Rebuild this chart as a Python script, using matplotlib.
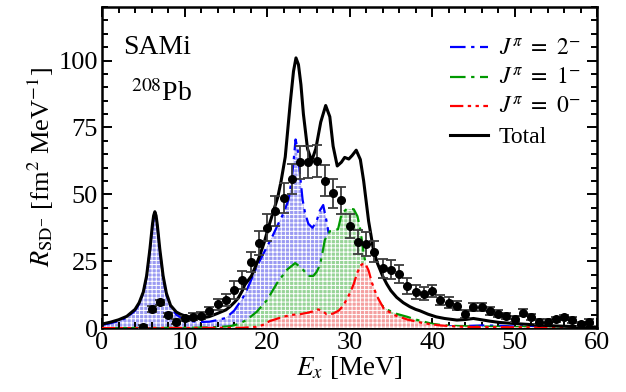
import matplotlib
matplotlib.use('Agg')
import matplotlib.pyplot as plt
import numpy as np

# J = 2- strength (blue)
e_j2 = [0, 1, 2, 3, 4, 4.5, 5, 5.4, 5.8, 6.1, 6.4, 6.7, 7.0, 7.4, 7.8, 8.3, 9, 10, 11, 12, 13, 14, 15, 16, 17,
        17.5, 18, 18.75, 19.5, 20, 20.6, 21.2, 22, 22.6, 23.0, 23.2, 23.45, 23.7, 24.0, 24.3, 24.6, 25.0, 25.5,
        26.0, 26.4, 26.8, 27.2, 27.6, 28.0, 28.5, 29, 30, 31, 32, 34, 36, 38, 40, 42, 44, 46, 48, 50, 52, 54,
        56, 58, 60]
r_j2 = [1.2, 1.8, 2.6, 3.9, 6.5, 9, 13, 19, 29, 38, 43.3, 38, 29, 19, 12.5, 8, 5, 3.2, 2.5, 2.3, 2.4, 3.0, 3.8, 6.5, 11,
        14, 17.5, 23, 27.5, 30.5, 34, 38, 43, 48, 56, 62, 70.5, 67, 57, 48, 43, 39, 37.5,
        40, 44, 46, 40, 33, 25, 17, 11, 6, 4, 3, 2.2, 1.6, 1.2, 0.9, 0.7, 0.8, 1.0, 0.9, 0.6, 0.7, 0.6,
        0.4, 0.3, 0.2]

# J = 1- strength (green)
e_j1 = [0, 10, 12, 14, 15.5, 16.5, 17.5, 18.75, 20.0, 21.2, 22.4, 23.4, 24.2, 25.0, 25.6, 26.0, 26.4, 26.7, 27.0,
        27.6, 28.0, 28.6, 29.05, 29.7, 30.5, 30.95, 31.3, 31.7, 32.2, 32.8, 33.5, 34.5, 35.5, 37, 38, 39, 40, 41,
        42, 44, 46, 48, 50, 52, 54, 56, 58, 60]
r_j1 = [0, 0.1, 0.2, 0.4, 0.7, 1.5, 3, 6.1, 10.5, 16.8, 21.8, 24.3, 22.4, 19.5, 19.5, 21, 23.5, 28, 33,
        36.2, 36.5, 37, 43, 44.6, 44.4, 41.8, 36.8, 28, 20, 13, 9.5, 7, 5.5, 4.2, 3.2, 2.4, 1.6, 1.2,
        0.9, 0.7, 0.6, 0.5, 0.4, 0.35, 0.3, 0.25, 0.2, 0.2]

# J = 0- strength (red)
e_j0 = [0, 17, 18.7, 19.5, 20.3, 21.5, 22.8, 24, 25.0, 25.6, 26.2, 26.8, 27.2, 28, 28.7, 29.2, 29.7, 30.1, 30.5,
        30.9, 31.3, 31.7, 32.0, 32.3, 32.7, 33.3, 34.1, 35.3, 37, 39, 41, 43, 45, 50, 55, 60]
r_j0 = [0, 0.1, 0.5, 1.2, 2.6, 3.8, 4.9, 5.2, 5.8, 6.3, 7.0, 6.2, 5.2, 5.4, 6.6, 8.3, 11, 13.5, 16.5,
        20.5, 23.3, 24.3, 23.5, 21.5, 17, 12, 7.5, 5, 3.2, 1.8, 1.0, 0.6, 0.4, 0.3, 0.2, 0.1]

# total
e_tot = [0, 1, 2, 3, 4, 4.5, 5, 5.4, 5.8, 6.1, 6.25, 6.4, 6.55, 6.7, 7.0, 7.4, 7.8, 8.3, 9, 9.5, 10, 11, 11.5, 12,
         13, 13.5, 14, 15, 15.5, 16, 16.5, 17, 17.3, 17.7, 18.1, 18.6, 19.1, 19.7, 20.1, 20.8, 21.3, 21.7, 22.2,
         22.8, 23.2, 23.5, 23.8, 24.1, 24.4, 24.9, 25.4, 25.9, 26.5, 27.1, 27.6, 28.0, 28.5, 29.0, 29.4, 29.9,
         30.3, 30.8, 31.3, 31.7, 32.3, 32.9, 33.4, 34.0, 34.5, 35.0, 35.7, 36.5, 37.3, 38.0, 38.5, 39.5, 40.5,
         41.5, 43, 44, 45, 46.2, 47, 48.2, 50, 51, 52.5, 54.3, 56, 58.3, 60]
r_tot = [1.5, 2.2, 3.1, 4.4, 7, 9.5, 13.5, 19.5, 29.5, 38.5, 42, 43.5, 42, 38.5, 29.5, 19.5, 13, 8.5, 6, 5.2, 4.6,
         3.8, 3.6, 3.7, 4.3, 4.9, 5.5, 6.8, 8, 9.5, 11.2, 14, 16.2, 17.8, 19.5, 23, 27, 32.5, 37, 44, 49, 55, 64,
         84, 96, 101, 98.5, 91, 80, 67, 62.5, 67, 77, 83.2, 79, 68, 60.6, 62, 63.8, 63.2,
         64.5, 66.5, 63, 55, 40, 29, 24, 19.5, 16.5, 14, 11.5, 9.5, 8, 7, 6.5, 5.2, 4.2,
         3.6, 3.0, 3.2, 3.6, 3.0, 2.6, 2.1, 1.7, 1.5, 1.2, 0.9, 0.7, 0.5, 0.4]

# experimental points
e_exp = list(range(5, 60))
r_exp = [0.5, 7.1, 9.7, 4.9, 2.4, 3.6, 4.3, 4.6, 6.5, 8.9, 10.5, 14.2, 18.0, 24.7, 31.8, 37.5, 43.7, 48.6, 55.9,
         61.9, 62.2, 62.3, 55.1, 50.4, 47.7, 38.2, 32.3, 31.5, 28.6, 22.3, 21.8, 20.3, 15.6, 13.5, 12.8, 13.9,
         10.5, 9.5, 8.4, 5.3, 8.0, 7.8, 6.4, 5.3, 4.6, 3.4, 5.8, 4.3, 2.4, 2.4, 3.3, 4.0, 3.0, 1.5, 2.4]
err_exp = [0.6, 1.2, 0.9, 0.9, 0.9, 1.0, 1.2, 1.3, 1.5, 2.0, 2.3, 3.3, 3.5, 3.8, 4.5, 5.0, 5.5, 5.5, 5.6,
           6.0, 6.0, 6.0, 5.8, 5.5, 5.0, 4.5, 4.5, 4.5, 4.0, 3.5, 3.5, 3.3, 3.0, 2.5, 2.4, 2.2,
           2.0, 2.0, 1.8, 1.5, 1.5, 1.5, 1.4, 1.3, 1.2, 1.1, 1.2, 1.1, 1.0, 1.0, 1.0, 1.0, 1.0, 0.9, 0.9]

plt.rcParams['font.family'] = ['Liberation Serif', 'DejaVu Serif']
plt.rcParams['mathtext.fontset'] = 'stix'
plt.rcParams['font.size'] = 15
plt.rcParams['hatch.linewidth'] = 0.7

fig = plt.figure(figsize=(6.26, 3.92), dpi=100)
ax = fig.add_subplot(1, 1, 1)
fig.subplots_adjust(left=0.163, right=0.954, top=0.982, bottom=0.163)

# fills + lines, blue, green, red (grid texture)
ax.fill_between(e_j2, r_j2, facecolor='#9a9af2', edgecolor='white', hatch='++++', linewidth=0, zorder=1)
ax.plot(e_j2, r_j2, color='blue', lw=1.6, ls=(0, (7, 2.5, 1.5, 2.5)), zorder=2,
        label=r'$J^{\pi}\ =\ 2^{-}$')
ax.fill_between(e_j1, r_j1, facecolor='#98d498', edgecolor='white', hatch='++++', linewidth=0, zorder=3)
ax.plot(e_j1, r_j1, color='#009900', lw=1.6, ls=(0, (7, 2.5, 1.5, 2.5)), zorder=4,
        label=r'$J^{\pi}\ =\ 1^{-}$')
ax.fill_between(e_j0, r_j0, facecolor='#f4a0a0', edgecolor='white', hatch='++++', linewidth=0, zorder=5)
ax.plot(e_j0, r_j0, color='red', lw=1.6, ls=(0, (6, 2, 1.5, 2, 1.5, 2)), zorder=6,
        label=r'$J^{\pi}\ =\ 0^{-}$')
ax.plot(e_tot, r_tot, color='black', lw=2.2, zorder=7, label='Total')

ax.errorbar(e_exp, r_exp, yerr=err_exp, fmt='o', color='black', ecolor='#3c3c3c', elinewidth=1.3,
            capsize=3.6, capthick=1.3, markersize=5.5, zorder=8)

ax.set_xlim(0, 60)
ax.set_ylim(0, 120)
ax.set_xticks(np.arange(0, 61, 10))
ax.set_xticks(np.arange(0, 61, 2), minor=True)
ax.set_yticks(np.arange(0, 101, 25))
ax.set_yticks(np.arange(0, 121, 5), minor=True)
ax.tick_params(which='both', direction='in', top=True, right=True, width=1.4)
ax.tick_params(which='major', length=7, labelsize=19, pad=3)
ax.tick_params(which='minor', length=4)
for sp in ax.spines.values():
    sp.set_linewidth(1.8)

ax.set_xlabel(r'$E_x$ [MeV]', fontsize=19.5, labelpad=0)
ax.set_ylabel(r'$R_{\mathrm{SD}^{-}}$ [fm$^{2}$ MeV$^{-1}$]', fontsize=19, labelpad=2)

ax.text(2.5, 102.3, 'SAMi', fontsize=20, va='baseline')
ax.text(3.5, 85, r'$^{208}$Pb', fontsize=20, va='baseline')

handles, labels = ax.get_legend_handles_labels()
ax.legend(handles, labels, loc='upper right', frameon=False, fontsize=17, handlelength=1.6,
          handletextpad=0.45, labelspacing=0.33, borderaxespad=0.0, bbox_to_anchor=(0.985, 0.93))

fig.savefig('out.png', dpi=100)
